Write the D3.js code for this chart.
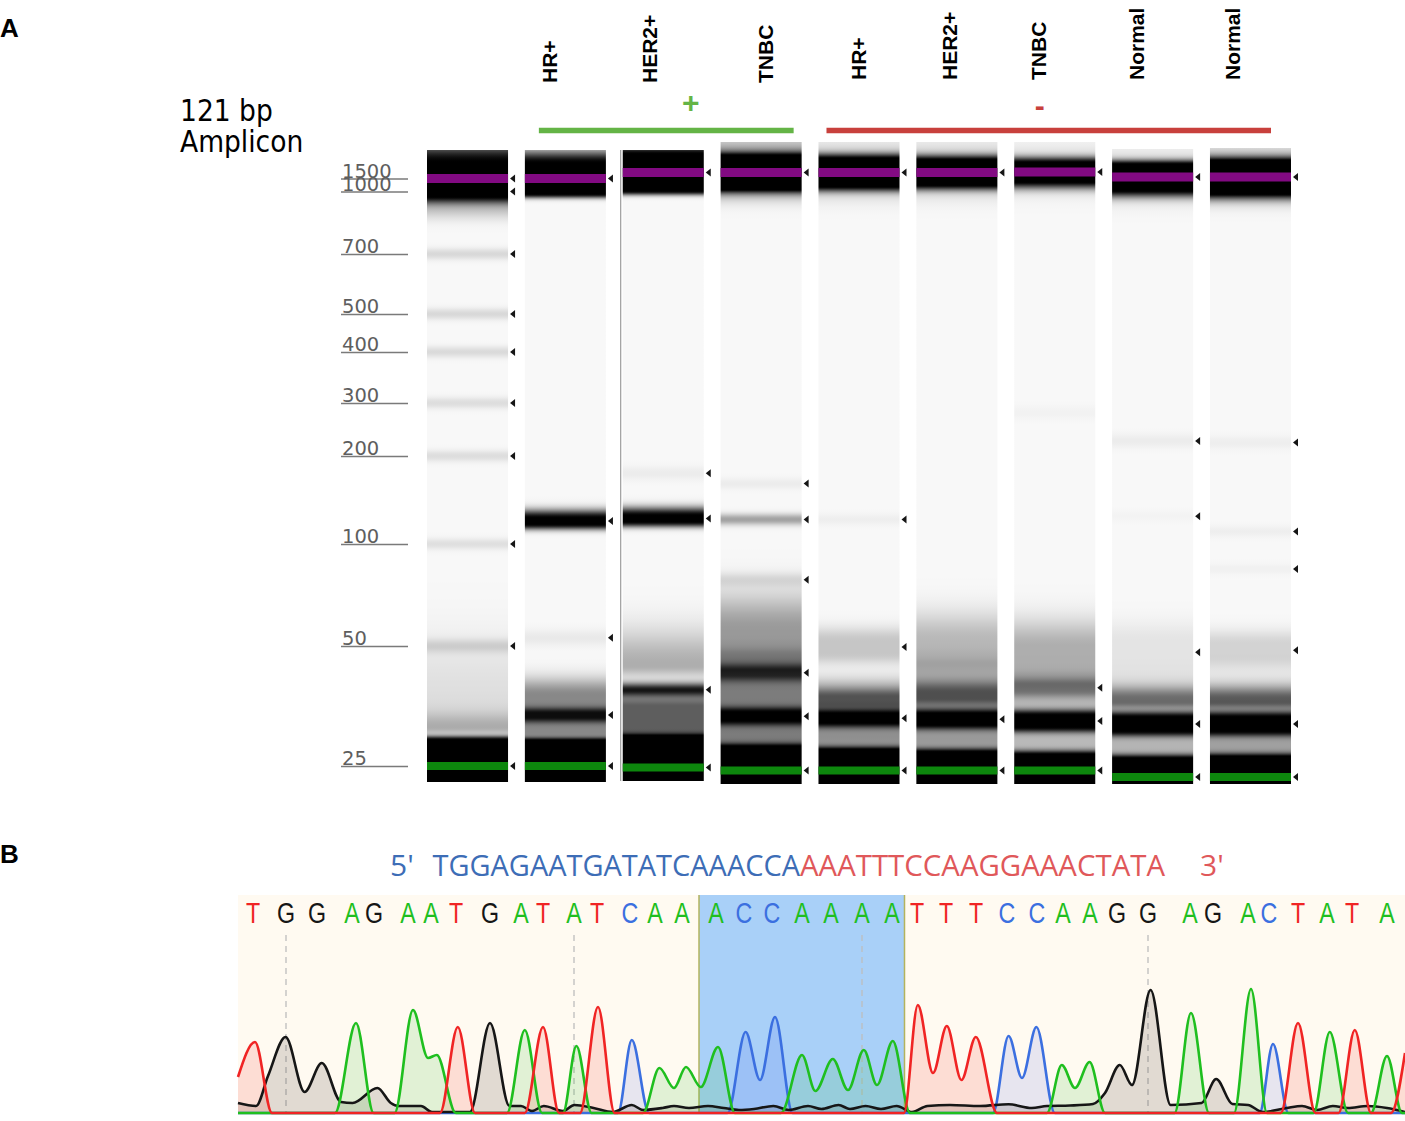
<!DOCTYPE html>
<html>
<head>
<meta charset="utf-8">
<script src="https://cdnjs.cloudflare.com/ajax/libs/d3/7.8.5/d3.min.js"></script>
<style>
  body { margin: 0; background: #fff; }
  svg { display: block; }
</style>
</head>
<body>
<svg id="fig" width="1405" height="1121"></svg>
<script>
// ---------- Panel A data: TapeStation gel ----------
const ladderSizes = [25, 50, 100, 200, 300, 400, 500, 700, 1000, 1500];
const laneNames = ["Ladder", "HR+", "HER2+", "TNBC", "HR+", "HER2+", "TNBC", "Normal", "Normal"];

// bands: [size bp, intensity 0-1, saturated half-width px, spread above px, spread below px]
const ladderBands = [[1500, 1, 16.5, 14, 6], [920, 0.2, 0, 8, 8], [700, 0.13, 0, 4, 4], [500, 0.13, 0, 4, 4],
  [400, 0.12, 0, 4, 4], [300, 0.11, 0, 4, 4], [200, 0.11, 0, 4, 4], [100, 0.1, 0, 4, 4], [50, 0.13, 0, 5, 5],
  [40, 0.1, 0, 40, 15], [33, 0.3, 0, 12, 5], [25, 1, 26, 3, 3]];
const hrPosBands = [[1500, 1, 15.5, 9, 3], [126, 1, 3, 6, 4], [54, 0.06, 0, 6, 6], [36, 0.45, 18, 12, 8],
  [35.6, 0.5, 2, 4, 4], [25, 1, 24, 3, 3]];
const her2PosBands = [[1500, 1, 18.5, 6, 3], [178, 0.05, 0, 5, 5], [127, 1, 3, 6, 4], [46, 0.3, 0, 25, 8],
  [41, 0.85, 0, 5, 5], [35, 0.62, 12, 8, 6], [25, 1, 29, 3, 3]];
const tnbcPosBands = [[1500, 1, 13, 5, 5], [1500, 0.4, 13, 15, 10], [168, 0.05, 0, 4, 4], [128, 0.35, 0, 4, 4],
  [83, 0.1, 0, 5, 5], [54, 0.38, 10, 25, 10], [38, 0.5, 35, 12, 10], [45, 0.35, 2, 5, 5], [36.1, 0.5, 4, 4, 4],
  [25, 1, 20.5, 4, 3]];
const hrNegBands = [[1500, 1, 12, 5, 5], [1500, 0.15, 12, 15, 12], [128, 0.04, 0, 4, 4], [50.6, 0.2, 6, 10, 8],
  [36, 0.42, 20, 12, 12], [39.4, 0.25, 3, 6, 4], [35.7, 0.6, 4, 4, 4], [25, 1, 18.5, 4, 3]];
const her2NegBands = [[1500, 1, 10.5, 5, 5], [1500, 0.15, 10.5, 15, 12], [49.6, 0.25, 10, 20, 10],
  [36, 0.38, 22, 20, 12], [40.4, 0.3, 3, 8, 5], [35.5, 0.65, 5, 4, 4], [25, 1, 16.5, 4, 3]];
const tnbcNegBands = [[1500, 1, 8, 5, 6], [1500, 0.1, 8, 15, 12], [278, 0.025, 0, 5, 5], [47.6, 0.3, 12, 20, 10],
  [36, 0.25, 25, 10, 12], [41.9, 0.25, 3, 5, 5], [35.1, 0.75, 6, 4, 4], [25, 1, 14.5, 4, 3]];
const normal1Bands = [[1500, 1, 11.5, 4, 6], [1500, 0.12, 11.5, 12, 12], [236, 0.05, 0, 5, 5], [138, 0.02, 0, 4, 4],
  [51, 0.08, 10, 15, 15], [35.8, 0.27, 22, 14, 12], [40.7, 0.3, 2, 8, 4], [35.8, 0.73, 7, 4, 4], [25, 1, 17, 4, 3]];
const normal2Bands = [[1500, 1, 13, 5, 6], [1500, 0.3, 13, 12, 10], [233, 0.04, 0, 5, 5], [121, 0.04, 0, 4, 4],
  [91, 0.03, 0, 4, 4], [52, 0.15, 6, 10, 10], [35.8, 0.35, 22, 14, 12], [40.7, 0.3, 2, 8, 4], [35.8, 0.65, 7, 4, 4],
  [25, 1, 18, 4, 3]];

// called peaks (arrow heads), bp
const hrPosPeaks = [1500, 126, 54, 35.6, 25];
const her2PosPeaks = [1500, 178, 127, 41, 25];
const tnbcPosPeaks = [1500, 168, 128, 83, 45, 36.1, 25];
const hrNegPeaks = [1500, 128, 50.6, 35.7, 25];
const her2NegPeaks = [1500, 35.5, 25];
const tnbcNegPeaks = [1500, 41.9, 35.1, 25];
const normal1Peaks = [1500, 236, 138, 51, 35.8, 25];
const normal2Peaks = [1500, 233, 121, 91, 52, 35.8, 25];

const laneBands = [ladderBands, hrPosBands, her2PosBands, tnbcPosBands, hrNegBands, her2NegBands, tnbcNegBands, normal1Bands, normal2Bands];
const lanePeaks = [ladderSizes, hrPosPeaks, her2PosPeaks, tnbcPosPeaks, hrNegPeaks, her2NegPeaks, tnbcNegPeaks, normal1Peaks, normal2Peaks];

// ---------- Panel B data: Sanger trace ----------
const primerLeft = "TGGAGAATGATATCAAACCA";
const primerRight = "AAATTTCCAAGGAAACTATA";
const baseCalls = "TGGAGAATGATATCAAACCAAAATTTCCAAGGAGACTATA";
const basePos = [7.5, 24, 39.5, 57, 68, 85, 96.5, 109, 126, 141.5, 152.5, 168, 179.5, 196, 208.5, 222,
  239, 253, 267, 282, 296.5, 312, 327, 339.5, 354, 369, 384.5, 399.5, 412.5, 426, 439.5, 455,
  476, 487.5, 505, 515.5, 530, 544.5, 557, 574.5];
const probeRange = [17, 23]; // highlighted base calls (1-based)

// traces: [scan, signal]
const traceA = [[0,0],[48.5,0],[59,900],[67.8,0],[78.3,0],[87.5,1030],[95,550],[99.4,580],[108.9,0],[134.5,0],
  [143.4,830],[152,0],[162.5,0],[169.2,670],[176.8,0],[202.5,0],[210.7,450],[218,250],[224,460],[231.4,260],
  [240,660],[248.5,0],[271.5,0],[282,580],[288.7,220],[297.4,540],[305,230],[312.9,630],[319.5,280],[327.4,720],
  [336,0],[404.5,0],[411.9,480],[418.5,250],[425.8,510],[433.5,0],[468.3,0],[476.5,1000],[485.5,0],[498,0],
  [506.5,1240],[514.5,0],[537.8,0],[545.9,810],[555,0],[566.5,0],[574.5,570],[582,0],[583.5,0]];
const traceT = [[0,360],[8.5,710],[17,0],[101,0],[109.9,860],[118.5,0],[143.4,0],[152.5,860],[160.5,0],[171,0],
  [180,1060],[188.3,0],[333,0],[339.9,1080],[347.5,400],[354.4,870],[361.7,330],[368.9,760],[379.5,0],[521.4,0],
  [530,900],[538.7,0],[550.3,0],[558.4,830],[566.5,0],[576.5,0],[583.5,600]];
const traceC = [[0,0],[190,0],[196.9,730],[205.5,0],[244.8,0],[253.8,810],[261,330],[268.5,960],[277.3,0],[377.5,0],
  [385.3,770],[392,350],[399.2,860],[408.4,0],[510.8,0],[517.5,690],[525.2,0],[583.5,0]];
const traceG = [[0,100],[9,70],[15,370],[23.8,760],[33.3,210],[41.9,500],[51.5,110],[57.3,100],[69.7,250],[76.4,100],
  [80.2,70],[91.5,70],[97,10],[116,10],[126,900],[135.7,70],[141.5,70],[147,20],[152.9,70],[162.5,20],[168.2,80],
  [177.8,50],[187.4,10],[196.9,80],[202.5,30],[212.3,50],[218,70],[225.5,50],[235,70],[242.9,50],[250.5,30],[258,40],
  [267.7,70],[275.4,30],[285,70],[291.7,40],[300.3,80],[306,40],[313.8,70],[321.5,40],[329.3,70],[337,10],[344.7,70],
  [356,80],[371,70],[385.3,87],[396.9,50],[404.5,70],[416,75],[427.5,90],[433.5,200],[440.9,480],[447,280],
  [456.3,1230],[466.3,80],[481.8,100],[489.1,340],[497.2,90],[505,80],[512.5,10],[524.3,50],[532,70],[539.5,30],
  [547.4,70],[555,50],[564.8,70],[574.5,50],[583.5,10]];

// ---------- layout ----------
const ladderRows = [766, 646, 544, 456, 403, 352, 314, 254, 191.5, 178.5];
const laneTop = [150, 150, 150, 142, 142, 142, 142, 149, 148];
const laneBottom = [782, 782, 781, 784, 784, 784, 784, 784, 784];
const laneUpper = [178.5, 178.5, 172.5, 172.5, 172.5, 172.5, 172, 177, 177];
const laneLower = [766, 766, 767.5, 770.5, 770.5, 770.5, 770.5, 777, 777];
const labelNudge = [0, -8.4, -6.5, 11.6, 7, 0, -8.7, -8.6, -10.5];
const labelFoot = [0, 83, 83, 83, 80, 80, 80, 80, 80];

const baseColor = { A: "#1fbf1f", C: "#3b6fe0", G: "#161616", T: "#f02424" };
const traceFill = { A: "rgba(40,190,40,0.14)", C: "rgba(70,90,230,0.13)", G: "rgba(40,30,20,0.14)", T: "rgba(240,60,50,0.15)" };

const svg = d3.select("#fig");
svg.append("rect").attr("width", 1405).attr("height", 1121).attr("fill", "#fff");

// panel letters
svg.append("text").attr("x", 0).attr("y", 36.5).text("A")
   .style("font", "bold 26px 'Liberation Sans', Arial, sans-serif");
svg.append("text").attr("x", 0).attr("y", 863).text("B")
   .style("font", "bold 26px 'Liberation Sans', Arial, sans-serif");

drawGel();
drawTrace();

// Draws the gel image of panel A
function drawGel() {
    const ladderY = d3.scaleLinear().domain(ladderSizes).range(ladderRows);
    const laneX = d3.scaleBand().domain(d3.range(laneNames.length)).range([427, 1291]).paddingInner(0.172);
    const bw = laneX.bandwidth();
    const shade = d3.interpolateRgb("#f8f8f8", "#000");

    // maps a size in bp to a row of lane i, registered on its two markers
    function laneY(i, bp) {
        const k = (laneLower[i] - laneUpper[i]) / (ladderY(25) - ladderY(1500));
        return laneLower[i] + (ladderY(bp) - ladderY(25)) * k;
    }

    function darkness(i, y) {
        let s = 0;
        laneBands[i].forEach(([bp, amp, w, up, dn]) => {
            const d = y - laneY(i, bp);
            const a = Math.abs(d) - w;
            if (a <= 0) s += amp;
            else {
                const sg = d < 0 ? up : dn;
                s += amp * Math.exp(-a * a / (2 * sg * sg));
            }
        });
        return Math.min(1, s);
    }

    const defs = svg.append("defs");
    const gel = svg.append("g").attr("class", "gel");

    laneNames.forEach((name, i) => {
        const grad = defs.append("linearGradient")
            .attr("id", "lane" + i)
            .attr("gradientUnits", "userSpaceOnUse")
            .attr("x1", 0).attr("x2", 0)
            .attr("y1", laneTop[i]).attr("y2", laneBottom[i]);
        const rows = d3.range(laneTop[i], laneBottom[i] + 0.5, 1);
        grad.selectAll("stop").data(rows).enter().append("stop")
            .attr("offset", y => (y - laneTop[i]) / (laneBottom[i] - laneTop[i]))
            .attr("stop-color", y => shade(darkness(i, y)));

        const x0 = laneX(i);
        gel.append("rect")
            .attr("x", x0).attr("y", laneTop[i])
            .attr("width", bw).attr("height", laneBottom[i] - laneTop[i])
            .attr("fill", `url(#lane${i})`);

        // upper (1500 bp) and lower (25 bp) markers
        gel.append("rect").attr("x", x0).attr("width", bw)
            .attr("y", laneY(i, 1500) - 4.5).attr("height", 9).attr("fill", "#820a82");
        gel.append("rect").attr("x", x0).attr("width", bw)
            .attr("y", laneY(i, 25) - 4).attr("height", 8).attr("fill", "#0d870d");

        // peak arrow heads
        gel.selectAll(null).data(lanePeaks[i]).enter().append("path")
            .attr("d", bp => {
                const y = laneY(i, bp), x = x0 + bw + 2;
                return `M${x},${y}L${x + 5},${y - 4}L${x + 5},${y + 4}Z`;
            })
            .attr("fill", "#151515");

        if (i > 0) {
            gel.append("text")
                .attr("transform", `translate(${x0 + bw / 2 + labelNudge[i]},${labelFoot[i]}) rotate(-90)`)
                .text(name)
                .style("font", "bold 21px 'Liberation Sans', Arial, sans-serif")
                .attr("fill", "#000");
        }
    });

    // thin edge line seen on the HER2+ lane
    gel.append("line")
        .attr("x1", laneX(2) - 2).attr("x2", laneX(2) - 2)
        .attr("y1", laneTop[2]).attr("y2", laneBottom[2])
        .attr("stroke", "#8a8a8a").attr("stroke-width", 1);

    // ladder size labels
    const axis = svg.append("g").attr("class", "ladder-axis");
    axis.selectAll("line").data(ladderSizes).enter().append("line")
        .attr("x1", 341).attr("x2", 408)
        .attr("y1", d => ladderY(d) + 0.5).attr("y2", d => ladderY(d) + 0.5)
        .attr("stroke", "#7a7a7a").attr("stroke-width", 1.5);
    axis.selectAll("text").data(ladderSizes).enter().append("text")
        .attr("x", 342).attr("y", d => ladderY(d) - 1)
        .text(d => d)
        .attr("fill", "#5e5e5e")
        .style("font", "19.5px 'DejaVu Sans', sans-serif");

    // amplicon note
    const note = svg.append("text")
        .style("font-family", "'DejaVu Sans Condensed', 'DejaVu Sans', sans-serif")
        .style("font-stretch", "condensed")
        .style("font-size", "29.5px")
        .attr("fill", "#000");
    note.append("tspan").attr("x", 180).attr("y", 121).text("121 bp");
    note.append("tspan").attr("x", 180).attr("y", 152).text("Amplicon");

    // group bars (+ / -)
    const groups = [
        { sign: "+", from: 1, to: 3, inset: [14, 8], shift: 24.5, color: "#64b446", base: 113 },
        { sign: "-", from: 4, to: 8, inset: [8, 20], shift: -9, color: "#c8403c", base: 116 }
    ];
    groups.forEach(g => {
        const x1 = laneX(g.from) + g.inset[0], x2 = laneX(g.to) + bw - g.inset[1];
        svg.append("line").attr("x1", x1).attr("x2", x2).attr("y1", 130.5).attr("y2", 130.5)
            .attr("stroke", g.color).attr("stroke-width", 5.5);
        svg.append("text").attr("x", (x1 + x2) / 2 + g.shift).attr("y", g.base)
            .attr("text-anchor", "middle").attr("fill", g.color)
            .style("font", "bold 30px 'Liberation Sans', Arial, sans-serif")
            .text(g.sign);
    });
}

// Draws the Sanger chromatogram of panel B
function drawTrace() {
    const x = d3.scaleLinear().domain([0, 583.5]).range([238, 1405]);
    const y = d3.scaleLinear().domain([0, 2200]).range([1113, 893]);
    const g = svg.append("g").attr("class", "trace");

    g.append("rect").attr("x", 238).attr("y", 895).attr("width", 1167).attr("height", 220).attr("fill", "#fffaf1");

    const hx0 = (x(basePos[probeRange[0] - 2]) + x(basePos[probeRange[0] - 1])) / 2;
    const hx1 = (x(basePos[probeRange[1] - 1]) + x(basePos[probeRange[1]])) / 2;
    g.append("rect").attr("x", hx0).attr("y", 895).attr("width", hx1 - hx0).attr("height", 218).attr("fill", "#a9d0f8");
    [hx0, hx1].forEach(v => g.append("line").attr("x1", v).attr("x2", v).attr("y1", 895).attr("y2", 1113)
        .attr("stroke", "#b3b35e").attr("stroke-width", 1.5));

    // every tenth base gets a dashed guide
    const guides = basePos.filter((p, i) => (i + 1) % 10 === 2);
    g.selectAll("line.guide").data(guides).enter().append("line").attr("class", "guide")
        .attr("x1", d => x(d)).attr("x2", d => x(d)).attr("y1", 935).attr("y2", 1112)
        .attr("stroke", "#bdbdbd").attr("stroke-width", 1.3).attr("stroke-dasharray", "6,5");

    const traces = [["C", traceC], ["G", traceG], ["A", traceA], ["T", traceT]];
    const area = d3.area().x(d => x(d[0])).y0(y(0)).y1(d => y(d[1])).curve(d3.curveMonotoneX);
    const line = d3.line().x(d => x(d[0])).y(d => y(d[1])).curve(d3.curveMonotoneX);

    traces.forEach(([b, data]) => {
        g.append("path").datum(data).attr("d", area).attr("fill", traceFill[b]);
    });
    traces.forEach(([b, data]) => {
        g.append("path").datum(data).attr("d", line).attr("fill", "none")
            .attr("stroke", baseColor[b]).attr("stroke-width", 2.6).attr("stroke-linejoin", "round");
    });

    // base calls
    g.selectAll("text.call").data(baseCalls.split("")).enter().append("text").attr("class", "call")
        .attr("transform", (d, i) => `translate(${x(basePos[i])},923) scale(0.8,1)`)
        .attr("text-anchor", "middle")
        .attr("fill", d => baseColor[d])
        .style("font", "29px 'Liberation Sans', Arial, sans-serif")
        .text(d => d);

    // primer/probe sequence header
    const head = svg.append("g").style("font", "30px 'Open Sans', sans-serif");
    head.append("text").attr("x", 390).attr("y", 876).attr("fill", "#3d6db6").text("5'");
    head.append("text").attr("x", 432.5).attr("y", 876).attr("fill", "#3d6db6")
        .attr("textLength", 367.5).attr("lengthAdjust", "spacingAndGlyphs").text(primerLeft);
    head.append("text").attr("x", 800).attr("y", 876).attr("fill", "#e0585a")
        .attr("textLength", 365).attr("lengthAdjust", "spacingAndGlyphs").text(primerRight);
    head.append("text").attr("x", 1200).attr("y", 876).attr("fill", "#e0585a").text("3'");
}
</script>
</body>
</html>
